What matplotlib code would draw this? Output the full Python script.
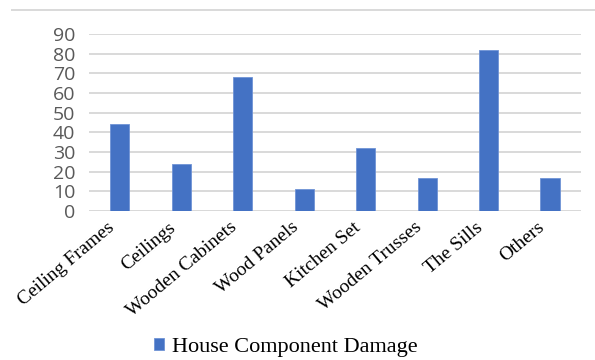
import numpy as np
import matplotlib.pyplot as plt
import matplotlib.transforms as mtransforms
from matplotlib.lines import Line2D

categories = ["Ceiling Frames", "Ceilings", "Wooden Cabinets", "Wood Panels",
              "Kitchen Set", "Wooden Trusses", "The Sills", "Others"]
damage = [44, 24, 68, 11, 32, 17, 82, 17]
yticks = [0, 10, 20, 30, 40, 50, 60, 70, 80, 90]

bar_color = "#4472C4"
grid_color = "#D9D9D9"

fig = plt.figure(figsize=(5.95, 3.6), dpi=100)
ax = fig.add_axes([0.1496, 0.4139, 0.8264, 0.4917])

x = np.arange(len(categories))
ax.bar(x, damage, width=0.31, color=bar_color, edgecolor="#6F93D6",
       linewidth=0.6, zorder=3, label="House Component Damage")

ax.set_xlim(-0.5, len(categories) - 0.5)
ax.set_ylim(0, 90)
ax.set_yticks(yticks)
ax.set_yticklabels([str(v) for v in yticks], fontsize=14, color="#595959",
                   family="Open Sans")
ax.set_xticks(x)
ax.set_xticklabels(categories, rotation=40, ha="right", rotation_mode="anchor",
                   fontsize=14, family="Liberation Serif", color="black")
ax.tick_params(axis="both", length=0)
ax.tick_params(axis="y", pad=10)
ax.tick_params(axis="x", pad=2)

# nudge the category labels left and down, like the original
shift = mtransforms.ScaledTranslation(-13 / 100, -5 / 100, fig.dpi_scale_trans)
for lbl in ax.get_xticklabels():
    lbl.set_transform(lbl.get_transform() + shift)

ax.grid(axis="y", color=grid_color, linewidth=1.4, zorder=0)
for s in ax.spines.values():
    s.set_visible(False)
ax.axhline(0, color=grid_color, linewidth=1.4, zorder=2)

# chart border line at the top
fig.add_artist(Line2D([0.02, 1.0], [0.972, 0.972], color=grid_color,
                      linewidth=1.4, transform=fig.transFigure))

handles, labels = ax.get_legend_handles_labels()
leg = fig.legend(handles, labels, loc="lower center", bbox_to_anchor=(0.48, -0.048),
                 frameon=False, prop={"family": "Liberation Serif", "size": 16},
                 handlelength=0.45, handleheight=0.45, handletextpad=0.35)

fig.savefig("out.png", dpi=100)
